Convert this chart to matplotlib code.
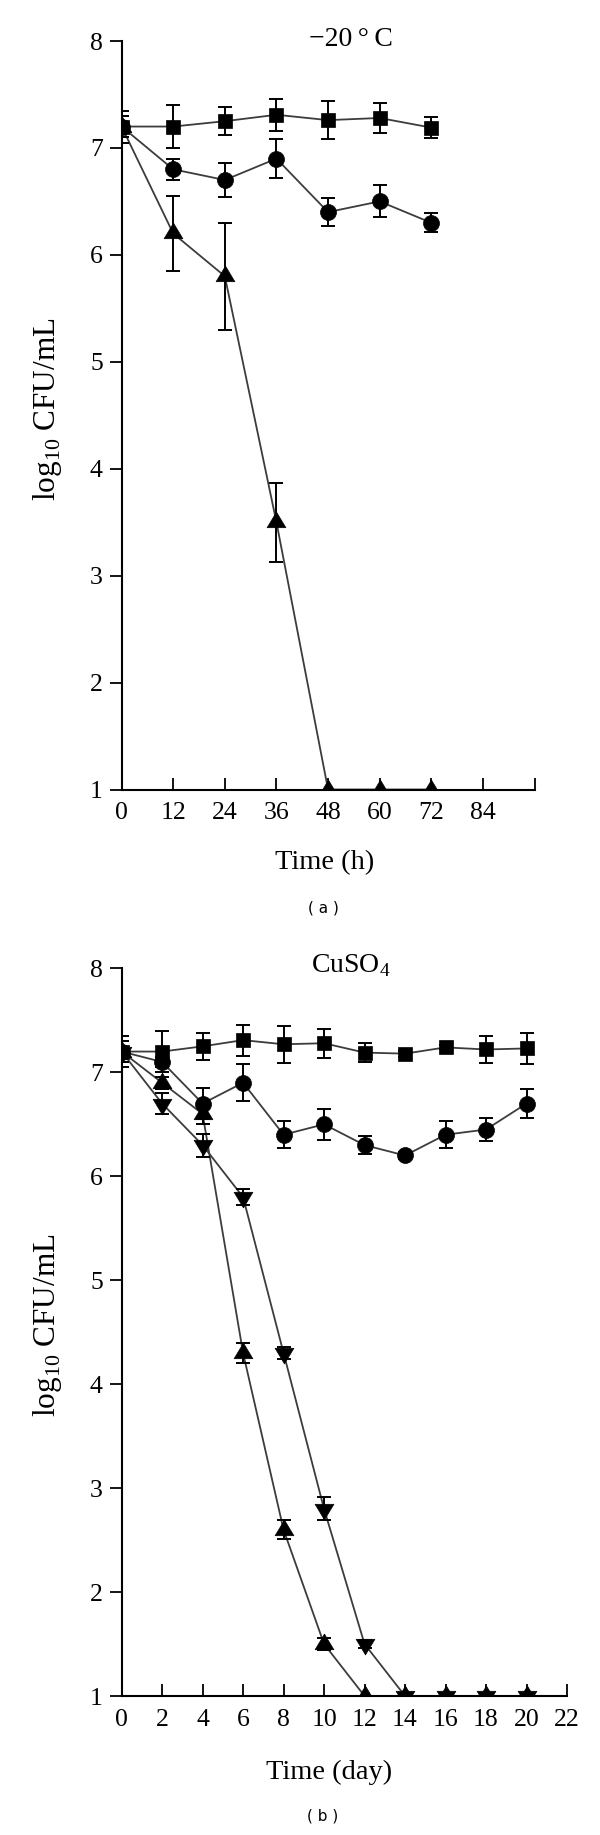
import matplotlib
matplotlib.use("Agg")
import matplotlib.pyplot as plt
from matplotlib.path import Path
import numpy as np

plt.rcParams['font.family'] = ['Liberation Serif', 'DejaVu Serif']
plt.rcParams['mathtext.fontset'] = 'custom'
plt.rcParams['mathtext.rm'] = 'Liberation Serif'

# ---------- Panel (a): -20 C ----------
time_a = [0, 12, 24, 36, 48, 60, 72]
sq_a = [7.2, 7.2, 7.25, 7.31, 7.26, 7.28, 7.19]
sq_a_err = [0.15, 0.2, 0.13, 0.15, 0.18, 0.14, 0.1]
ci_a = [7.2, 6.8, 6.7, 6.9, 6.4, 6.5, 6.3]
ci_a_err = [0.1, 0.1, 0.16, 0.18, 0.13, 0.15, 0.09]
tr_a = [7.2, 6.2, 5.8, 3.5, 1.0, 1.0, 1.0]
tr_a_err = [0.1, 0.35, 0.5, 0.37, 0.0, 0.0, 0.0]
xticks_a = [0, 12, 24, 36, 48, 60, 72, 84, 96]
xticklabels_a = ['0', '12', '24', '36', '48', '60', '72', '84', '']

# ---------- Panel (b): CuSO4 ----------
time_b = [0, 2, 4, 6, 8, 10, 12, 14, 16, 18, 20]
sq_b = [7.2, 7.2, 7.25, 7.31, 7.27, 7.28, 7.19, 7.18, 7.24, 7.22, 7.23]
sq_b_err = [0.15, 0.2, 0.13, 0.15, 0.18, 0.14, 0.09, 0.03, 0.02, 0.13, 0.15]
ci_b = [7.2, 7.1, 6.7, 6.9, 6.4, 6.5, 6.3, 6.2, 6.4, 6.45, 6.7]
ci_b_err = [0.1, 0.05, 0.15, 0.18, 0.13, 0.15, 0.09, 0.03, 0.13, 0.11, 0.14]
up_b = [7.2, 6.9, 6.6, 4.3, 2.6, 1.5, 1.0, 1.0, 1.0, 1.0, 1.0]
up_b_err = [0.1, 0.06, 0.1, 0.1, 0.09, 0.06, 0.0, 0.0, 0.0, 0.0, 0.0]
dn_b = [7.2, 6.7, 6.3, 5.8, 4.3, 2.8, 1.5, 1.0, 1.0, 1.0, 1.0]
dn_b_err = [0.1, 0.1, 0.11, 0.08, 0.06, 0.11, 0.04, 0.0, 0.0, 0.0, 0.0]
xticks_b = list(range(0, 23, 2))
xticklabels_b = [str(v) for v in xticks_b]

yticks = [1, 2, 3, 4, 5, 6, 7, 8]

W, H = 600, 1835
fig = plt.figure(figsize=(W / 100, H / 100), dpi=100)

def px_axes(l, r, t, b):
    return fig.add_axes([l / W, 1 - b / H, (r - l) / W, (b - t) / H])

ax_a = px_axes(121.6, 534.5, 41, 789.5)
ax_b = px_axes(121.6, 567, 968.4, 1696)

LINE_C = '#3c3c3c'

# triangles centred on their centroid (as in the original figure)
TRI_UP = Path([(0, 4 / 3), (-1.2, -2 / 3), (1.2, -2 / 3), (0, 4 / 3)],
              [Path.MOVETO, Path.LINETO, Path.LINETO, Path.CLOSEPOLY])
TRI_DN = Path([(0, -4 / 3), (-1.2, 2 / 3), (1.2, 2 / 3), (0, -4 / 3)],
              [Path.MOVETO, Path.LINETO, Path.LINETO, Path.CLOSEPOLY])

def draw_series(ax, x, y, err, marker, ms):
    ax.errorbar(x, y, yerr=err, fmt='none', ecolor='black', elinewidth=1.4,
                capsize=4.8, capthick=1.4, zorder=3)
    ax.plot(x, y, color=LINE_C, lw=1.3, zorder=2)
    ax.plot(x, y, linestyle='none', marker=marker, ms=ms, mfc='black',
            mec='black', mew=0.5, zorder=4)

def style_axes(ax, xmax, xticks, xticklabels):
    ax.set_xlim(0, xmax)
    ax.set_ylim(1, 8)
    for s in ['top', 'right']:
        ax.spines[s].set_visible(False)
    for s in ['left', 'bottom']:
        ax.spines[s].set_linewidth(1.5)
    ax.set_yticks(yticks)
    ax.set_xticks(xticks)
    ax.set_xticklabels(xticklabels)
    ax.tick_params(axis='y', direction='out', length=8.5, width=1.3,
                   labelsize=18.5, pad=5)
    ax.tick_params(axis='x', direction='in', length=9, width=1.3,
                   labelsize=18.5, pad=9)

draw_series(ax_a, time_a, sq_a, sq_a_err, 's', 10)
draw_series(ax_a, time_a, ci_a, ci_a_err, 'o', 11.5)
draw_series(ax_a, time_a, tr_a, tr_a_err, TRI_UP, 15)
style_axes(ax_a, 96, xticks_a, xticklabels_a)

draw_series(ax_b, time_b, sq_b, sq_b_err, 's', 10)
draw_series(ax_b, time_b, ci_b, ci_b_err, 'o', 11.5)
draw_series(ax_b, time_b, up_b, up_b_err, TRI_UP, 15)
draw_series(ax_b, time_b, dn_b, dn_b_err, TRI_DN, 15)
style_axes(ax_b, 22, xticks_b, xticklabels_b)

def ftext(x, y, s, **kw):
    fig.text(x / W, 1 - y / H, s, **kw)

ftext(351, 40, '\u221220\u2009\u00b0\u2009C', ha='center', va='center', fontsize=20)
ftext(351, 966, 'CuSO$_{\\mathregular{4}}$', ha='center', va='center', fontsize=20)
ftext(325, 863, 'Time (h)', ha='center', va='center', fontsize=20.5)
ftext(329, 1772, 'Time (day)', ha='center', va='center', fontsize=20.5)
ftext(48, 409, 'log$_{\\mathregular{10}}$ CFU/mL', ha='center', va='center',
      rotation=90, fontsize=22.5)
ftext(48, 1325, 'log$_{\\mathregular{10}}$ CFU/mL', ha='center', va='center',
      rotation=90, fontsize=22.5)
ftext(323, 908, '( a )', ha='center', va='center', fontsize=11,
      family='DejaVu Sans')
ftext(323, 1816, '( b )', ha='center', va='center', fontsize=11,
      family='DejaVu Sans')

fig.savefig('out.png', dpi=100)
